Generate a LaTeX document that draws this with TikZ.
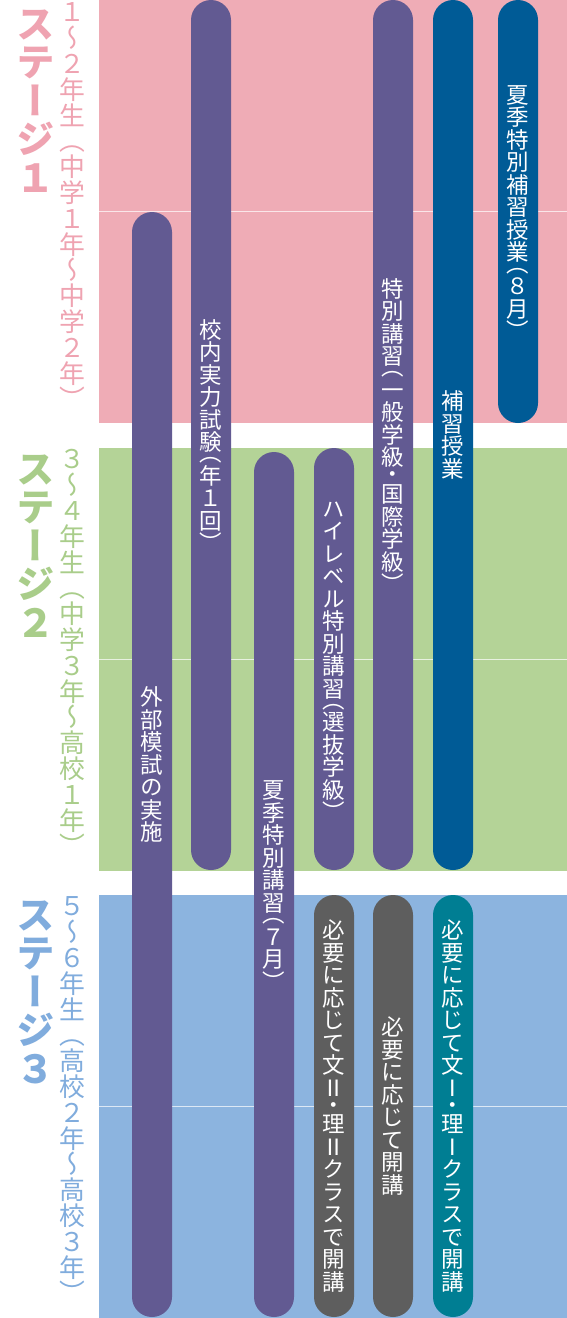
\documentclass[tikz,border=0pt]{standalone}
\usepackage{fontspec}
\newfontfamily\vjp[RawFeature=+vert]{Noto Sans CJK JP}
\makeatletter
\newif\ifhalfp
\def\vfull#1{\hbox to 1em{\hss\vrule height .88em depth .12em width 0pt\relax#1\hss}}
\def\vhalf#1#2{\hbox to 1em{\hss\vrule height .5em depth 0pt width 0pt\relax\raisebox{#2}{\smash{#1}}\hss}}
\def\vst@ck#1{\ifx#1\relax\else
  \ifhalfp
    \ifx#1（\vhalf{#1}{0.12em}\else\ifx#1）\vhalf{#1}{-0.38em}\else\ifx#1・\vhalf{#1}{-0.13em}\else\vfull{#1}\fi\fi\fi
  \else\vfull{#1}\fi
  \expandafter\vst@ck\fi}
\newcommand\vstack[1]{\vbox{\offinterlineskip\vst@ck#1\relax}}
\makeatother
\definecolor{bandpink}{HTML}{EFACB6}
\definecolor{bandgreen}{HTML}{B4D397}
\definecolor{bandblue}{HTML}{8CB4DF}
\definecolor{txtpink}{HTML}{EFA3B1}
\definecolor{txtgreen}{HTML}{A9CD8A}
\definecolor{txtblue}{HTML}{80ACDD}
\definecolor{barpurple}{HTML}{625A92}
\definecolor{bardblue}{HTML}{005B96}
\definecolor{bargray}{HTML}{5E5E5E}
\definecolor{barteal}{HTML}{007E93}
\tikzset{
  band/.style={fill=#1},
  divider/.style={draw=white, opacity=0.7, line width=1.2pt},
  bar/.style={fill=#1, draw=none, rounded corners=20pt, minimum height=40pt, inner sep=0pt, rotate=-90},
  bartext/.style={text=white, font=\vjp\fontsize{22.5}{22.5}\selectfont\halfptrue, inner sep=0pt},
  stage/.style={text=#1, font=\vjp\bfseries\fontsize{38.5}{38.5}\selectfont\halfpfalse, inner sep=0pt, anchor=north},
  grade/.style={text=#1, font=\vjp\fontsize{25.8}{25.8}\selectfont\halfpfalse, inner sep=0pt, anchor=north},
}
\begin{document}
\begin{tikzpicture}[x=1pt,y=-1pt]
\useasboundingbox (0,0) rectangle (567,1318);
\fill[white] (0,0) rectangle (567,1318);
% bands
\fill[band=bandpink] (99,0) rectangle (567,423);
\fill[band=bandgreen] (99,448) rectangle (567,871);
\fill[band=bandblue] (99,895) rectangle (567,1318);
\draw[divider] (99,211.5) -- (567,211.5);
\draw[divider] (99,659.5) -- (567,659.5);
\draw[divider] (99,1106.5) -- (567,1106.5);
% stage labels
\node[stage=txtpink] (s1) at (35.5,4) {\vstack{ステージ１}};
\node[grade=txtpink] (g1) at (72,-1) {\vstack{１～２年生（中学１年～中学２年）}};
\node[stage=txtgreen] (s2) at (35.5,449) {\vstack{ステージ２}};
\node[grade=txtgreen] (g2) at (72,446) {\vstack{３～４年生（中学３年～高校１年）}};
\node[stage=txtblue] (s3) at (35.5,895) {\vstack{ステージ３}};
\node[grade=txtblue] (g3) at (72,893) {\vstack{５～６年生（高校２年～高校３年）}};
% bars
\node[bar=barpurple, minimum width=1105pt] (b1) at (152,764.5) {};
\node[bartext] (t1) at (b1.center) {\vstack{外部模試の実施}};
\node[bar=barpurple, minimum width=870pt] (b2) at (211,435) {};
\node[bartext] (t2) at (b2.center) {\vstack{校内実力試験（年１回）}};
\node[bar=barpurple, minimum width=865pt] (b3) at (274,884.5) {};
\node[bartext] (t3) at (b3.center) {\vstack{夏季特別講習（７月）}};
\node[bar=barpurple, minimum width=422pt] (b4) at (334,659) {};
\node[bartext] (t4) at (b4.center) {\vstack{ハイレベル特別講習（選抜学級）}};
\node[bar=barpurple, minimum width=870pt] (b5) at (393,435) {};
\node[bartext] (t5) at (b5.center) {\vstack{特別講習（一般学級・国際学級）}};
\node[bar=bardblue, minimum width=870pt] (b6) at (453,435) {};
\node[bartext] (t6) at (b6.center) {\vstack{補習授業}};
\node[bar=bardblue, minimum width=423pt] (b7) at (518,211.5) {};
\node[bartext] (t7) at (b7.center) {\vstack{夏季特別補習授業（８月）}};
\node[bar=bargray, minimum width=422pt] (b8) at (334,1106) {};
\node[bartext] (t8) at (b8.center) {\vstack{必要に応じて文Ⅱ・理Ⅱクラスで開講}};
\node[bar=bargray, minimum width=422pt] (b9) at (393,1106) {};
\node[bartext] (t9) at (b9.center) {\vstack{必要に応じて開講}};
\node[bar=barteal, minimum width=422pt] (b10) at (453,1106) {};
\node[bartext] (t10) at (b10.center) {\vstack{必要に応じて文Ⅰ・理Ⅰクラスで開講}};
\end{tikzpicture}
\end{document}
